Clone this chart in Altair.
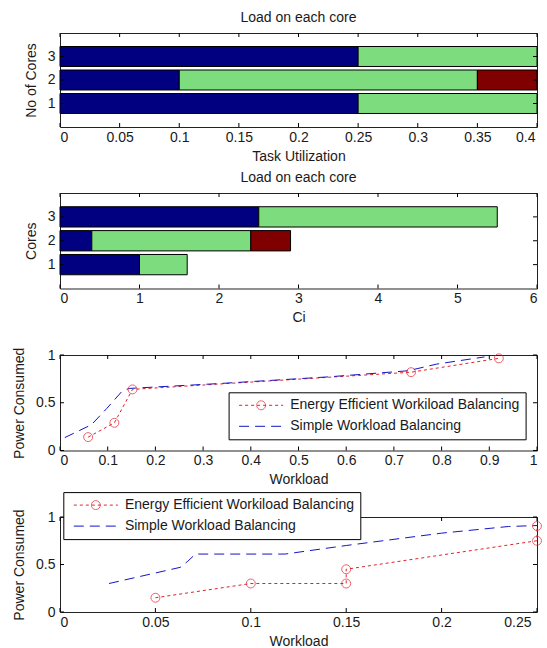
import altair as alt
import pandas as pd

FONT = "Liberation Sans"
TXT = "#1a1a1a"
NAVY, GREEN, MAROON = "#000080", "#7ddc7d", "#800000"
RED, BLUE = "#e4202a", "#1414c8"

# ---------------- data ----------------
cores = ["1", "2", "3"]
util_blue = [0.25, 0.10, 0.25]
util_green = [0.15, 0.25, 0.15]
util_red = [0.0, 0.05, 0.0]
util_ticks = [0, 0.05, 0.1, 0.15, 0.2, 0.25, 0.3, 0.35, 0.4]

ci_blue = [1.0, 0.4, 2.5]
ci_green = [0.6, 2.0, 3.0]
ci_red = [0.0, 0.5, 0.0]
ci_ticks = [0, 1, 2, 3, 4, 5, 6]

E_NAME = "Energy Efficient Workiload Balancing"
S_NAME = "Simple Workload Balancing"

p3_eff_x = [0.059, 0.114, 0.152, 0.736, 0.920]
p3_eff_y = [0.14, 0.29, 0.64, 0.82, 0.965]
p3_sim_x = [0.010, 0.066, 0.098, 0.130, 0.145, 0.330, 0.560, 0.730, 0.790, 0.890]
p3_sim_y = [0.135, 0.27, 0.44, 0.62, 0.65, 0.70, 0.77, 0.835, 0.905, 0.98]
p3_ticks = [0, 0.1, 0.2, 0.3, 0.4, 0.5, 0.6, 0.7, 0.8, 0.9, 1]

p4_eff_x = [0.05, 0.10, 0.15, 0.15, 0.25, 0.25]
p4_eff_y = [0.15, 0.30, 0.30, 0.45, 0.75, 0.905]
p4_sim_x = [0.0257, 0.063, 0.067, 0.071, 0.118, 0.150, 0.200, 0.235, 0.250]
p4_sim_y = [0.30, 0.47, 0.535, 0.61, 0.61, 0.70, 0.83, 0.90, 0.91]
p4_ticks = [0, 0.05, 0.1, 0.15, 0.2, 0.25]

power_ticks = [0, 0.5, 1]

W = 477
TICK = 4


def frame_ticks(x_enc, y_enc, xticks_df, yticks_df, h):
    rc = dict(color="#000", strokeWidth=1)
    bottom = alt.Chart(xticks_df).mark_rule(**rc).encode(
        x=x_enc, y=alt.value(h), y2=alt.value(h - TICK))
    top = alt.Chart(xticks_df).mark_rule(**rc).encode(
        x=x_enc, y=alt.value(0), y2=alt.value(TICK))
    left = alt.Chart(yticks_df).mark_rule(**rc).encode(
        y=y_enc, x=alt.value(0), x2=alt.value(TICK))
    right = alt.Chart(yticks_df).mark_rule(**rc).encode(
        y=y_enc, x=alt.value(W - TICK), x2=alt.value(W))
    return [bottom, top, left, right]


def last_label_offset(xmax, off):
    return {"condition": {"test": f"datum.value >= {xmax * 0.999}", "value": off}, "value": 0}


def bar_panel(blue, green, red, ticks, xmax, xtitle, ytitle, h, last_off):
    rows = []
    for c, b, g, r in zip(cores, blue, green, red):
        for seg, v, o in (("s1", b, 0), ("s2", g, 1), ("s3", r, 2)):
            if v > 0:
                rows.append({"core": c, "seg": seg, "value": v, "ord": o})
    df = pd.DataFrame(rows)
    xs = alt.Scale(domain=[0, xmax], nice=False, zero=False)
    xax = alt.Axis(values=ticks, title=xtitle, format="~g",
                   labelOffset=last_label_offset(xmax, last_off))
    ys = alt.Scale(domain=["3", "2", "1"], paddingInner=0.15, paddingOuter=0.575)
    yax = alt.Axis(title=ytitle, labelAngle=0)
    bars = alt.Chart(df).mark_bar(stroke="#000", strokeWidth=1).encode(
        x=alt.X("value:Q", stack="zero", scale=xs, axis=xax),
        y=alt.Y("core:N", scale=ys, axis=yax),
        color=alt.Color("seg:N", scale=alt.Scale(domain=["s1", "s2", "s3"], range=[NAVY, GREEN, MAROON]), legend=None),
        order=alt.Order("ord:Q"),
    )
    xt = pd.DataFrame({"value": ticks})
    yt = pd.DataFrame({"core": cores})
    tk = frame_ticks(alt.X("value:Q", scale=xs, axis=xax), alt.Y("core:N", scale=ys, axis=yax), xt, yt, h)
    return alt.layer(bars, *tk).properties(width=W, height=h, title="Load on each core")


def line_panel(ex, ey, sx, sy, xmax, ticks, lx, ly, h, last_off):
    rows = []
    for i, (x, y) in enumerate(zip(ex, ey)):
        rows.append({"series": E_NAME, "x": x, "y": y, "i": i})
    for i, (x, y) in enumerate(zip(sx, sy)):
        rows.append({"series": S_NAME, "x": x, "y": y, "i": i})
    df = pd.DataFrame(rows)
    xs = alt.Scale(domain=[0, xmax], nice=False, zero=False)
    ys = alt.Scale(domain=[0, 1], nice=False, zero=False)
    xax = alt.Axis(values=ticks, title="Workload", format="~g",
                   labelOffset=last_label_offset(xmax, last_off))
    yax = alt.Axis(values=power_ticks, title="Power Consumed", format="~g")
    leg = alt.Legend(
        title=None, orient="none", legendX=lx, legendY=ly, padding=6,
        strokeColor="#000", fillColor="#fff", cornerRadius=0,
        labelFont=FONT, labelFontSize=14, labelColor=TXT, labelLimit=400,
        symbolType="stroke", symbolSize=1936, symbolStrokeWidth=1,
        symbolOffset=4, labelOffset=6.6, symbolFillColor="transparent",
        clipHeight=14, rowPadding=7, zindex=1,
    )
    # circle marker of the first legend entry (separate legend laid on top)
    leg_mk = alt.Legend(
        title=None, orient="none", legendX=lx + 27.5, legendY=ly + 6, padding=0,
        labelFontSize=10, labelOpacity=0, labelColor="transparent", labelLimit=20,
        symbolType="circle", symbolSize=80, symbolStrokeWidth=1,
        symbolStrokeColor=RED, symbolFillColor="transparent", symbolOffset=0,
        clipHeight=14, zindex=2,
    )
    cscale = alt.Scale(domain=[E_NAME, S_NAME], range=[RED, BLUE])
    dscale = alt.Scale(domain=[E_NAME, S_NAME], range=[[3, 3], [10, 6]])
    X = alt.X("x:Q", scale=xs, axis=xax)
    Y = alt.Y("y:Q", scale=ys, axis=yax)
    lines = alt.Chart(df).mark_line(strokeWidth=1).encode(
        x=X, y=Y,
        color=alt.Color("series:N", scale=cscale, legend=leg),
        strokeDash=alt.StrokeDash("series:N", scale=dscale, legend=leg),
        order=alt.Order("i:Q"),
    )
    pts = alt.Chart(df).transform_filter(alt.datum.series == E_NAME).transform_calculate(
        mk="datum.series").mark_point(
        filled=False, size=80, strokeWidth=1, color=RED).encode(
        x=X, y=Y,
        shape=alt.Shape("mk:N", scale=alt.Scale(domain=[E_NAME], range=["circle"]), legend=leg_mk))
    xt = pd.DataFrame({"x": ticks})
    yt = pd.DataFrame({"y": power_ticks})
    tk = frame_ticks(X, Y, xt, yt, h)
    return alt.layer(*tk, lines, pts).properties(width=W, height=h)


p1 = bar_panel(util_blue, util_green, util_red, util_ticks, 0.4, "Task Utilization", "No of Cores", 94, -2)
p2 = bar_panel(ci_blue, ci_green, ci_red, ci_ticks, 6, "Ci", "Cores", 95.5, 0)
p3 = line_panel(p3_eff_x, p3_eff_y, p3_sim_x, p3_sim_y, 1, p3_ticks, 168.6, 37.3, 95.5, 0)
p4 = line_panel(p4_eff_x, p4_eff_y, p4_sim_x, p4_sim_y, 0.25, p4_ticks, 3.3, -24.9, 95, -6)

chart = alt.vconcat(p1, p2, p3, p4, spacing=66, bounds="flush").resolve_scale(
    x="independent", y="independent", color="independent",
    strokeDash="independent", shape="independent",
).resolve_legend(color="independent", strokeDash="independent", shape="independent").properties(
    padding={"left": 12, "top": 10, "right": 0, "bottom": 0},
    background="#ffffff",
).configure_view(
    stroke="#222", strokeWidth=1, fill="#ffffff"
).configure_axis(
    domain=False, ticks=False, grid=False,
    labelFont=FONT, labelFontSize=14, labelColor=TXT,
    titleFont=FONT, titleFontSize=14, titleFontWeight="normal", titleColor=TXT,
).configure_axisX(
    labelPadding=3, titlePadding=5,
).configure_axisY(
    labelPadding=5, titlePadding=9,
).configure_title(
    font=FONT, fontSize=14, fontWeight="normal", color=TXT, offset=8, anchor="middle",
)

chart.save("out.html", embed_options={"renderer": "svg", "actions": False})
